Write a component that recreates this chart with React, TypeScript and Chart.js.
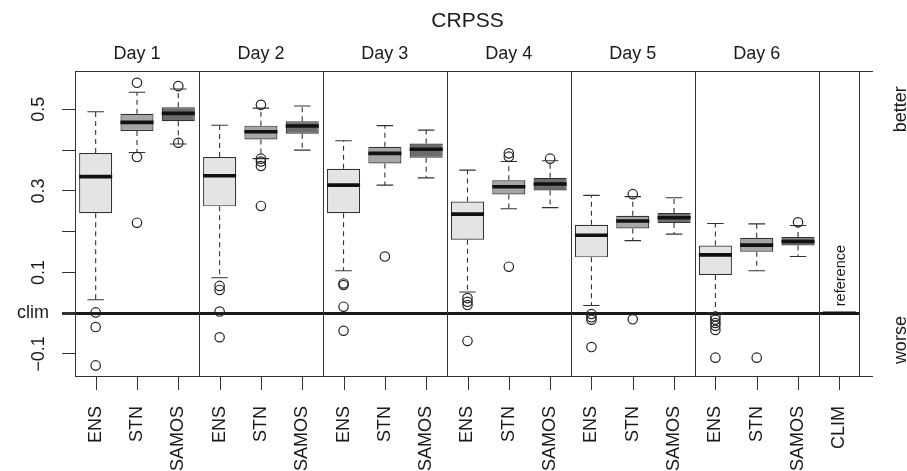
import React, { useEffect, useRef } from "react";
import { Chart, registerables } from "chart.js";

Chart.register(...registerables);

const FONT = "'Liberation Sans', Arial, Helvetica, sans-serif";

const categories = [
  "ENS", "STN", "SAMOS",
  "ENS", "STN", "SAMOS",
  "ENS", "STN", "SAMOS",
  "ENS", "STN", "SAMOS",
  "ENS", "STN", "SAMOS",
  "ENS", "STN", "SAMOS",
  "CLIM",
];

const dayLabels = ["Day 1", "Day 2", "Day 3", "Day 4", "Day 5", "Day 6"];

const whiskerLow = [
  0.033, 0.394, 0.415,
  0.087, 0.379, 0.400,
  0.104, 0.314, 0.332,
  0.052, 0.256, 0.259,
  0.019, 0.178, 0.194,
  0.001, 0.104, 0.139,
  0,
];
const boxLow = [
  0.245, 0.447, 0.471,
  0.262, 0.426, 0.440,
  0.245, 0.367, 0.381,
  0.180, 0.291, 0.301,
  0.137, 0.208, 0.221,
  0.094, 0.151, 0.166,
  0,
];
const medians = [
  0.335, 0.468, 0.490,
  0.337, 0.445, 0.459,
  0.314, 0.392, 0.402,
  0.243, 0.310, 0.317,
  0.191, 0.226, 0.234,
  0.143, 0.167, 0.176,
  0,
];
const boxHigh = [
  0.393, 0.489, 0.505,
  0.383, 0.460, 0.471,
  0.354, 0.408, 0.416,
  0.274, 0.326, 0.332,
  0.217, 0.239, 0.246,
  0.166, 0.185, 0.187,
  0,
];
const whiskerHigh = [
  0.494, 0.542, 0.550,
  0.461, 0.503, 0.508,
  0.423, 0.460, 0.449,
  0.351, 0.372, 0.374,
  0.289, 0.286, 0.283,
  0.220, 0.219, 0.215,
  0,
];
const outliers: number[][] = [
  [0.002, -0.034, -0.128], [0.565, 0.383, 0.222], [0.557, 0.418],
  [0.067, 0.057, 0.004, -0.059], [0.511, 0.379, 0.372, 0.361, 0.263], [],
  [0.073, 0.069, 0.016, -0.043], [0.139], [],
  [0.037, 0.028, 0.020, -0.068], [0.392, 0.384, 0.114], [0.379],
  [-0.002, -0.010, -0.016, -0.083], [0.292, -0.015], [],
  [-0.008, -0.016, -0.024, -0.031, -0.041, -0.109], [-0.109], [0.223],
  [],
];

const yTickValues = [-0.1, 0, 0.1, 0.2, 0.3, 0.4, 0.5];
const yTickLabels = ["\u22120.1", "clim", "0.1", "", "0.3", "", "0.5"];

const boxFill: Record<string, string> = {
  ENS: "#e4e4e4",
  STN: "#a6a6a6",
  SAMOS: "#6c6c6c",
  CLIM: "#e4e4e4",
};

const Y_MIN = -0.154;
const Y_MAX = 0.594;

export default function App() {
  const ref = useRef<HTMLCanvasElement | null>(null);

  useEffect(() => {
    document.body.style.margin = "0";
    const canvas = ref.current;
    if (!canvas) return;

    const cap = 0.2;
    const half = 0.4;
    const whiskerData: any[] = [];
    const capData: any[] = [];
    const medianData: any[] = [];
    categories.forEach((_, i) => {
      whiskerData.push({ x: i, y: boxHigh[i] }, { x: i, y: whiskerHigh[i] }, { x: i, y: null });
      whiskerData.push({ x: i, y: boxLow[i] }, { x: i, y: whiskerLow[i] }, { x: i, y: null });
      capData.push({ x: i - cap, y: whiskerHigh[i] }, { x: i + cap, y: whiskerHigh[i] }, { x: i + cap, y: null });
      capData.push({ x: i - cap, y: whiskerLow[i] }, { x: i + cap, y: whiskerLow[i] }, { x: i + cap, y: null });
      medianData.push({ x: i - half, y: medians[i] }, { x: i + half, y: medians[i] }, { x: i + half, y: null });
    });
    const outlierData = outliers.flatMap((arr, i) => arr.map((v) => ({ x: i, y: v })));

    const decorations = {
      id: "decorations",
      afterDraw(chart: any) {
        const { ctx, chartArea: a, scales } = chart;
        const xs = scales.x;
        const ys = scales.y;
        ctx.save();
        ctx.setLineDash([]);
        ctx.strokeStyle = "#333";
        ctx.fillStyle = "#333";
        ctx.lineWidth = 1;
        // frame
        ctx.strokeRect(a.left + 0.5, a.top + 0.5, a.right - a.left - 1, a.bottom - a.top);
        // group separators
        for (let g = 1; g <= dayLabels.length; g++) {
          const px = Math.round(xs.getPixelForValue(g * 3 - 0.5));
          ctx.fillRect(px, a.top, 1, a.bottom - a.top);
        }
        // x tick marks
        for (let i = 0; i < categories.length; i++) {
          const px = Math.round(xs.getPixelForValue(i));
          ctx.fillRect(px, Math.round(a.bottom), 1, 14);
        }
        // right side ticks at the limits
        ctx.fillRect(a.right, Math.round(a.top), 13, 1);
        ctx.fillRect(a.right, Math.round(a.bottom), 13, 1);

        ctx.fillStyle = "#1a1a1a";
        // title
        ctx.font = `21px ${FONT}`;
        ctx.textAlign = "center";
        ctx.textBaseline = "alphabetic";
        ctx.fillText("CRPSS", (a.left + a.right) / 2, 26.5);
        // day labels
        ctx.font = `18px ${FONT}`;
        dayLabels.forEach((d, g) => {
          ctx.fillText(d, xs.getPixelForValue(g * 3 + 1), 59);
        });
        // y labels
        yTickValues.forEach((v, k) => {
          const lab = yTickLabels[k];
          if (!lab) return;
          const py = ys.getPixelForValue(v);
          if (lab === "clim") {
            ctx.textAlign = "right";
            ctx.textBaseline = "middle";
            ctx.fillText(lab, 49, py);
          } else {
            ctx.save();
            ctx.translate(44, py);
            ctx.rotate(-Math.PI / 2);
            ctx.textAlign = "center";
            ctx.textBaseline = "alphabetic";
            ctx.fillText(lab, 0, 0);
            ctx.restore();
          }
        });
        // better / worse
        const side = (txt: string, py: number) => {
          ctx.save();
          ctx.translate(906, py);
          ctx.rotate(-Math.PI / 2);
          ctx.textAlign = "center";
          ctx.textBaseline = "alphabetic";
          ctx.fillText(txt, 0, 0);
          ctx.restore();
        };
        side("better", ys.getPixelForValue(0.5));
        side("worse", ys.getPixelForValue(-0.066));
        // reference
        ctx.save();
        ctx.font = `14.5px ${FONT}`;
        ctx.translate(xs.getPixelForValue(categories.length - 1) + 5.5, ys.getPixelForValue(0) - 7);
        ctx.rotate(-Math.PI / 2);
        ctx.textAlign = "left";
        ctx.textBaseline = "alphabetic";
        ctx.fillText("reference", 0, 0);
        ctx.restore();
        ctx.restore();
      },
    };

    const chart = new Chart(canvas, {
      type: "bar",
      data: {
        datasets: [
          {
            type: "line",
            data: whiskerData,
            borderColor: "#333",
            borderWidth: 1.1,
            borderDash: [5, 4],
            pointRadius: 0,
            spanGaps: false,
            order: 5,
          } as any,
          {
            type: "line",
            data: capData,
            borderColor: "#333",
            borderWidth: 1.1,
            pointRadius: 0,
            spanGaps: false,
            order: 4,
          } as any,
          {
            type: "bar",
            data: categories.map((_, i) => ({ x: i, y: [boxLow[i], boxHigh[i]] })),
            backgroundColor: categories.map((c) => boxFill[c]),
            borderColor: "#333",
            borderWidth: 1.2,
            borderSkipped: false,
            barPercentage: 0.8,
            categoryPercentage: 1,
            order: 3,
          } as any,
          {
            type: "line",
            data: medianData,
            borderColor: "#111",
            borderWidth: 3.6,
            borderCapStyle: "butt",
            pointRadius: 0,
            spanGaps: false,
            order: 2,
          } as any,
          {
            type: "scatter",
            data: outlierData,
            pointStyle: "circle",
            pointRadius: 4.7,
            pointBackgroundColor: "rgba(0,0,0,0)",
            pointBorderColor: "#222",
            pointBorderWidth: 1.2,
            order: 1,
          } as any,
        ],
      },
      options: {
        animation: false,
        responsive: false,
        events: [],
        layout: { padding: { top: 71, right: 47, left: 0, bottom: 0 } },
        plugins: {
          legend: { display: false },
          tooltip: { enabled: false },
          title: { display: false },
        },
        scales: {
          x: {
            type: "linear",
            offset: false,
            min: -0.5,
            max: categories.length - 0.5,
            afterBuildTicks: (s: any) => {
              s.ticks = categories.map((_, i) => ({ value: i }));
            },
            afterFit: (s: any) => {
              s.height = 95;
            },
            border: { display: false },
            grid: {
              display: false,
              offset: false,
              drawOnChartArea: false,
              drawTicks: true,
              tickLength: 14,
            },
            ticks: {
              autoSkip: false,
              minRotation: 90,
              maxRotation: 90,
              padding: 16,
              color: "#1a1a1a",
              font: { family: FONT, size: 18 },
              callback: (v: any) => categories[Math.round(Number(v))] ?? "",
            },
          },
          y: {
            type: "linear",
            min: Y_MIN,
            max: Y_MAX,
            afterBuildTicks: (s: any) => {
              s.ticks = yTickValues.map((v) => ({ value: v }));
            },
            afterFit: (s: any) => {
              s.width = 75;
            },
            border: { display: false },
            grid: {
              drawOnChartArea: true,
              drawTicks: true,
              tickLength: 13,
              color: (c: any) => (c.tick && c.tick.value === 0 ? "#1a1a1a" : "rgba(0,0,0,0)"),
              lineWidth: (c: any) => (c.tick && c.tick.value === 0 ? 3 : 1),
              tickColor: "#333",
              tickWidth: (c: any) => (c.tick && c.tick.value === 0 ? 3 : 1),
            },
            ticks: { display: false },
          },
        },
      },
      plugins: [decorations],
    } as any);

    return () => chart.destroy();
  }, []);

  return <canvas ref={ref} width={907} height={471} style={{ display: "block" }} />;
}
